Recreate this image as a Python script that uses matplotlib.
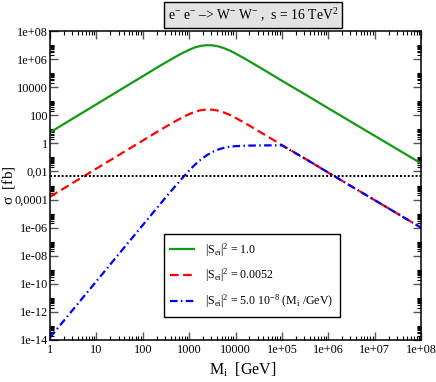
import numpy as np
import matplotlib
matplotlib.use("Agg")
import matplotlib.pyplot as plt
from matplotlib.ticker import FixedLocator, FixedFormatter, NullFormatter

plt.rcParams['font.family'] = ['Liberation Serif', 'DejaVu Serif']
plt.rcParams['mathtext.fontset'] = 'custom'
plt.rcParams['mathtext.rm'] = 'Liberation Serif'
plt.rcParams['mathtext.it'] = 'Liberation Serif:italic'
plt.rcParams['mathtext.default'] = 'rm'

# heavy neutrino mass M_i [GeV] and log10(sigma [fb])
mass = [1, 3.16, 10, 31.6, 100, 178, 316, 422, 562, 750, 1000, 1330, 1780, 2370,
        3160, 4220, 5620, 7500, 10000, 17800, 31600, 56200, 1e5,
        3.16e5, 1e6, 3.16e6, 1e7, 3.16e7, 1e8]
logsig_s1 = [0.78, 1.78, 2.78, 3.78, 4.78, 5.28, 5.77, 6.01, 6.24, 6.46, 6.66, 6.83, 6.94, 6.99,
             6.98, 6.91, 6.78, 6.61, 6.40, 5.94, 5.45, 4.96, 4.46,
             3.49, 2.50, 1.52, 0.54, -0.44, -1.42]
logsig_s0052 = [-3.80, -2.80, -1.80, -0.80, 0.20, 0.70, 1.19, 1.43, 1.66, 1.88, 2.08, 2.25, 2.36, 2.41,
                2.40, 2.33, 2.20, 2.03, 1.82, 1.36, 0.87, 0.38, -0.12,
                -1.09, -2.08, -3.06, -4.04, -5.02, -6.00]
logsig_sM = [-13.82, -11.82, -9.82, -7.82, -5.82, -4.82, -3.83, -3.34, -2.86, -2.39, -1.94, -1.52, -1.16, -0.86,
             -0.62, -0.44, -0.32, -0.24, -0.20, -0.16, -0.15, -0.14, -0.14,
             -1.09, -2.08, -3.06, -4.04, -5.02, -6.00]
sigma_limit = 0.0045

labels = [r"$|S_{ei}|^2$ = 1.0",
          r"$|S_{ei}|^2$ = 0.0052",
          r"$|S_{ei}|^2$ = 5.0 10$^{-8}$ (M$_{i}$ /GeV)"]

xticks = [1, 10, 100, 1000, 1e4, 1e5, 1e6, 1e7, 1e8]
xticklabels = ["1", "10", "100", "1000", "10000", "1e+05", "1e+06", "1e+07", "1e+08"]
yticks = [1e8, 1e6, 1e4, 1e2, 1, 1e-2, 1e-4, 1e-6, 1e-8, 1e-10, 1e-12, 1e-14]
yticklabels = ["1e+08", "1e+06", "10000", "100", "1", "0,01", "0,0001",
               "1e-06", "1e-08", "1e-10", "1e-12", "1e-14"]

fig = plt.figure(figsize=(4.36, 3.82), dpi=100)
ax = fig.add_axes([50/436, 1 - 340/382, 371/436, 309/382])

ax.plot(mass, 10**np.array(logsig_s1), color='#129a12', lw=1.6, label=labels[0])
ax.plot(mass, 10**np.array(logsig_s0052), color='#ff0000', lw=1.6,
        dashes=(3.9, 2.0), label=labels[1])
ax.plot(mass, 10**np.array(logsig_sM), color='#0000ff', lw=1.6,
        dashes=(3.4, 1.5, 0.7, 1.5), label=labels[2])
ax.axhline(sigma_limit, color='black', lw=1.4, dashes=(1, 1))

ax.set_xscale('log')
ax.set_yscale('log')
ax.set_xlim(1, 1e8)
ax.set_ylim(1e-14, 1e8)

ax.xaxis.set_major_locator(FixedLocator(xticks))
ax.xaxis.set_major_formatter(FixedFormatter(xticklabels))
xminor = [k * 10.0**n for n in range(0, 8) for k in range(2, 10)]
ax.xaxis.set_minor_locator(FixedLocator(xminor))
ax.xaxis.set_minor_formatter(NullFormatter())

ax.yaxis.set_major_locator(FixedLocator(yticks))
ax.yaxis.set_major_formatter(FixedFormatter(yticklabels))
yminor = [k * 10.0**n for n in range(-14, 8, 2) for k in range(2, 11)]
ax.yaxis.set_minor_locator(FixedLocator(yminor))
ax.yaxis.set_minor_formatter(NullFormatter())

ax.tick_params(which='both', direction='in', top=True, right=True, labelsize=8.8)
ax.tick_params(which='major', length=5.5, width=1.0, color='#555555')
ax.tick_params(which='minor', length=2.6, width=0.8)
ax.tick_params(axis='y', pad=1.5)
ax.tick_params(axis='x', pad=3)
for sp in ax.spines.values():
    sp.set_linewidth(1.1)

ax.set_xlabel(r"M$_{i}$  [GeV]", fontsize=11.5)
ax.xaxis.set_label_coords(0.52, -0.068)
ax.set_ylabel(r"$\sigma$  [fb]", fontsize=11)
ax.yaxis.label.set_va('center')
ax.yaxis.set_label_coords(-0.112, 0.5)

leg = ax.legend(loc='lower left', bbox_to_anchor=(0.307, 0.0744), borderaxespad=0,
                fancybox=False, edgecolor='black', framealpha=1, fontsize=8.6,
                handlelength=2.0, handletextpad=0.9, labelspacing=0.7,
                borderpad=0.55)
leg.get_frame().set_linewidth(1.0)

fig.text(253/436, 1 - 15/382,
         "e$^{-}$ e$^{-}$ \u2013> W$^{-}$ W$^{-}$ ,  s = 16 TeV$^{2}$",
         ha='center', va='center', fontsize=9.8,
         bbox=dict(boxstyle='square,pad=0.3', facecolor='#e3e3e3', edgecolor='black', lw=1.0))

fig.savefig("out.png", dpi=100)
